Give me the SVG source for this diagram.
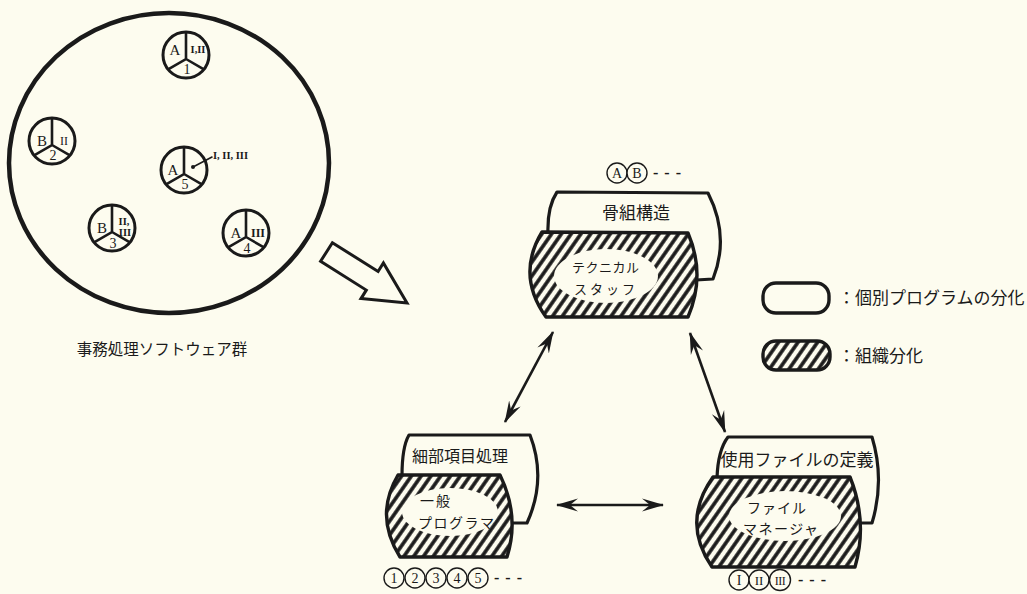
<svg xmlns="http://www.w3.org/2000/svg" xmlns:xlink="http://www.w3.org/1999/xlink" width="1027" height="594" viewBox="0 0 1027 594">
<style>
.jp{font-family:"Noto Sans CJK JP","Noto Sans CJK SC",sans-serif;fill:#1a1a1a}
.sf{font-family:"Liberation Serif",serif;fill:#1a1a1a}
.ln{fill:none;stroke:#1a1a1a;stroke-linecap:round;stroke-linejoin:round}
.hat{fill:url(#hatch);stroke:#1a1a1a;stroke-width:3.4;stroke-linejoin:round}
.clr{fill:#fdfcef;stroke:none}
.cl{fill:#fdfcef;stroke:#1a1a1a;stroke-width:1.4}
.con{fill:none;stroke:#1a1a1a;stroke-width:2.6;marker-start:url(#ah);marker-end:url(#ah)}
</style>
<defs>
<pattern id="hatch" patternUnits="userSpaceOnUse" width="8" height="8" patternTransform="rotate(35)">
<rect width="8" height="8" fill="#fdfcef"/>
<line x1="2" y1="-1" x2="2" y2="9" stroke="#1a1a1a" stroke-width="3.6"/>
</pattern>
<marker id="ah" markerUnits="userSpaceOnUse" viewBox="0 0 22 14" refX="21" refY="7" markerWidth="22" markerHeight="14" orient="auto-start-reverse">
<path d="M0,0.5 L22,7 L0,13.5 L8,7 Z" fill="#1a1a1a"/>
</marker>
<g id="pie">
<circle r="23" fill="#fdfcef" stroke="#1a1a1a" stroke-width="3"/>
<path d="M0,-23 L0,4 L-17.9,14.4 M0,4 L17.9,14.4" fill="none" stroke="#1a1a1a" stroke-width="2.6"/>
</g>
</defs>
<rect width="1027" height="594" fill="#fdfcef"/>

<g id="software-group">
<ellipse cx="169" cy="163" rx="160" ry="150" fill="none" stroke="#1a1a1a" stroke-width="4.5"/>
<text class="jp" x="162" y="355" font-size="15.5" text-anchor="middle">事務処理ソフトウェア群</text>
</g>

<g id="prog1">
<use xlink:href="#pie" x="186" y="55"/>
<text class="sf" x="175" y="55" font-size="15" text-anchor="middle">A</text>
<text class="sf" x="198" y="53" font-size="10.5" text-anchor="middle" font-weight="bold">I,II</text>
<text class="sf" x="187" y="74" font-size="14" text-anchor="middle">1</text>
</g>
<g id="prog2">
<use xlink:href="#pie" x="52" y="141"/>
<text class="sf" x="42" y="146" font-size="15" text-anchor="middle">B</text>
<text class="sf" x="64" y="145" font-size="12" text-anchor="middle">II</text>
<text class="sf" x="53" y="160" font-size="14" text-anchor="middle">2</text>
</g>
<g id="prog5">
<use xlink:href="#pie" x="184" y="170"/>
<text class="sf" x="173" y="175" font-size="15" text-anchor="middle">A</text>
<circle cx="193" cy="167" r="2" fill="#1a1a1a"/>
<line class="ln" x1="193" y1="167" x2="212" y2="157" stroke-width="1.6"/>
<text class="sf" x="213" y="159" font-size="10.5" font-weight="bold">I, II, III</text>
<text class="sf" x="185" y="189" font-size="14" text-anchor="middle">5</text>
</g>
<g id="prog3">
<use xlink:href="#pie" x="112" y="228"/>
<text class="sf" x="102" y="233" font-size="15" text-anchor="middle">B</text>
<text class="sf" x="124" y="225" font-size="10.5" text-anchor="middle" font-weight="bold">II,</text>
<text class="sf" x="125" y="236" font-size="10.5" text-anchor="middle" font-weight="bold">III</text>
<text class="sf" x="113" y="248" font-size="14" text-anchor="middle">3</text>
</g>
<g id="prog4">
<use xlink:href="#pie" x="246" y="233"/>
<text class="sf" x="236" y="238" font-size="15" text-anchor="middle">A</text>
<text class="sf" x="258" y="237" font-size="12" text-anchor="middle" font-weight="bold">III</text>
<text class="sf" x="247" y="253" font-size="14" text-anchor="middle">4</text>
</g>

<g id="big-arrow">
<polygon points="332.4,242.7 378.1,271.5 383.4,263 407,303 361,298.6 366.3,290.1 320.6,261.3" fill="#fdfcef" stroke="#1a1a1a" stroke-width="3" stroke-linejoin="miter"/>
</g>

<g id="node-skeleton">
<path class="ln" stroke-width="3.2" d="M548,234 Q547,207 557,192 L708,193 Q730,236 713,279 L696,280"/>
<text class="jp" x="636" y="219" font-size="17" text-anchor="middle">骨組構造</text>
<path class="hat" d="M542,232 L688,233 Q706,275 688,317 L546,317 Q516,275 542,232 Z"/>
<ellipse class="clr" cx="606" cy="276" rx="52" ry="27"/>
<text class="jp" x="572" y="272" font-size="13" letter-spacing="0.5">テクニカル</text>
<text class="jp" x="574" y="294" font-size="13" letter-spacing="3">スタッフ</text>
<g id="label-AB">
<circle class="cl" cx="617" cy="173" r="10"/>
<circle class="cl" cx="637" cy="173" r="10"/>
<text class="sf" x="617" y="178" font-size="14" text-anchor="middle">A</text>
<text class="sf" x="637" y="178" font-size="14" text-anchor="middle">B</text>
<text class="sf" x="653" y="178" font-size="16" font-weight="bold" letter-spacing="6">---</text>
</g>
</g>

<g id="node-detail">
<path class="ln" stroke-width="3.2" d="M402,476 Q402,447 409,435 L530,435 Q547,479 527,523 L511,523"/>
<text class="jp" x="412" y="462" font-size="16">細部項目処理</text>
<path class="hat" d="M398,475 L500,475 Q520,516 507,557 L400,557 Q374,516 398,475 Z"/>
<ellipse class="clr" cx="450" cy="512" rx="48" ry="24"/>
<text class="jp" x="420" y="506" font-size="14" letter-spacing="2">一般</text>
<text class="jp" x="418" y="528" font-size="14" letter-spacing="1.5">プログラマ</text>
<g id="label-12345">
<circle class="cl" cx="394" cy="578" r="10"/>
<circle class="cl" cx="415" cy="578" r="10"/>
<circle class="cl" cx="436" cy="578" r="10"/>
<circle class="cl" cx="457" cy="578" r="10"/>
<circle class="cl" cx="478" cy="578" r="10"/>
<text class="sf" x="394" y="583" font-size="14" text-anchor="middle">1</text>
<text class="sf" x="415" y="583" font-size="14" text-anchor="middle">2</text>
<text class="sf" x="436" y="583" font-size="14" text-anchor="middle">3</text>
<text class="sf" x="457" y="583" font-size="14" text-anchor="middle">4</text>
<text class="sf" x="478" y="583" font-size="14" text-anchor="middle">5</text>
<text class="sf" x="494" y="583" font-size="16" font-weight="bold" letter-spacing="6">---</text>
</g>
</g>

<g id="node-file">
<path class="ln" stroke-width="3.2" d="M717,478 Q718,450 728,437 L872,437 Q885,480 872,523 L858,523"/>
<text class="jp" x="797" y="466" font-size="17" text-anchor="middle">使用ファイルの定義</text>
<path class="hat" d="M713,477 L850,477 Q868,522 855,567 L712,567 Q681,522 713,477 Z"/>
<ellipse class="clr" cx="785" cy="516" rx="56" ry="25"/>
<text class="jp" x="747" y="513" font-size="14" letter-spacing="1">ファイル</text>
<text class="jp" x="743" y="534" font-size="14" letter-spacing="1.5">マネージャ</text>
<g id="label-roman">
<circle class="cl" cx="739" cy="580" r="10"/>
<circle class="cl" cx="759" cy="580" r="10"/>
<circle class="cl" cx="780" cy="580" r="10.5"/>
<text class="sf" x="739" y="585" font-size="14" text-anchor="middle">I</text>
<text class="sf" x="759" y="585" font-size="13" text-anchor="middle">II</text>
<text class="sf" x="780" y="585" font-size="12" text-anchor="middle" letter-spacing="-0.5">III</text>
<text class="sf" x="798" y="585" font-size="16" font-weight="bold" letter-spacing="6">---</text>
</g>
</g>

<g id="legend">
<g id="legend-individual">
<rect x="763" y="283" width="66" height="30" rx="13" fill="#fdfcef" stroke="#1a1a1a" stroke-width="3.4"/>
<text class="jp" x="838" y="304" font-size="17">：個別プログラムの分化</text>
</g>
<g id="legend-organization">
<rect x="763" y="341" width="67" height="29" rx="13" fill="url(#hatch)" stroke="#1a1a1a" stroke-width="3.4"/>
<text class="jp" x="838" y="362" font-size="17">：組織分化</text>
</g>
</g>

<g id="connectors">
<line class="con" x1="553" y1="332" x2="505" y2="422"/>
<line class="con" x1="690" y1="333" x2="725" y2="432"/>
<line class="con" x1="557" y1="505" x2="663" y2="505"/>
</g>
</svg>
